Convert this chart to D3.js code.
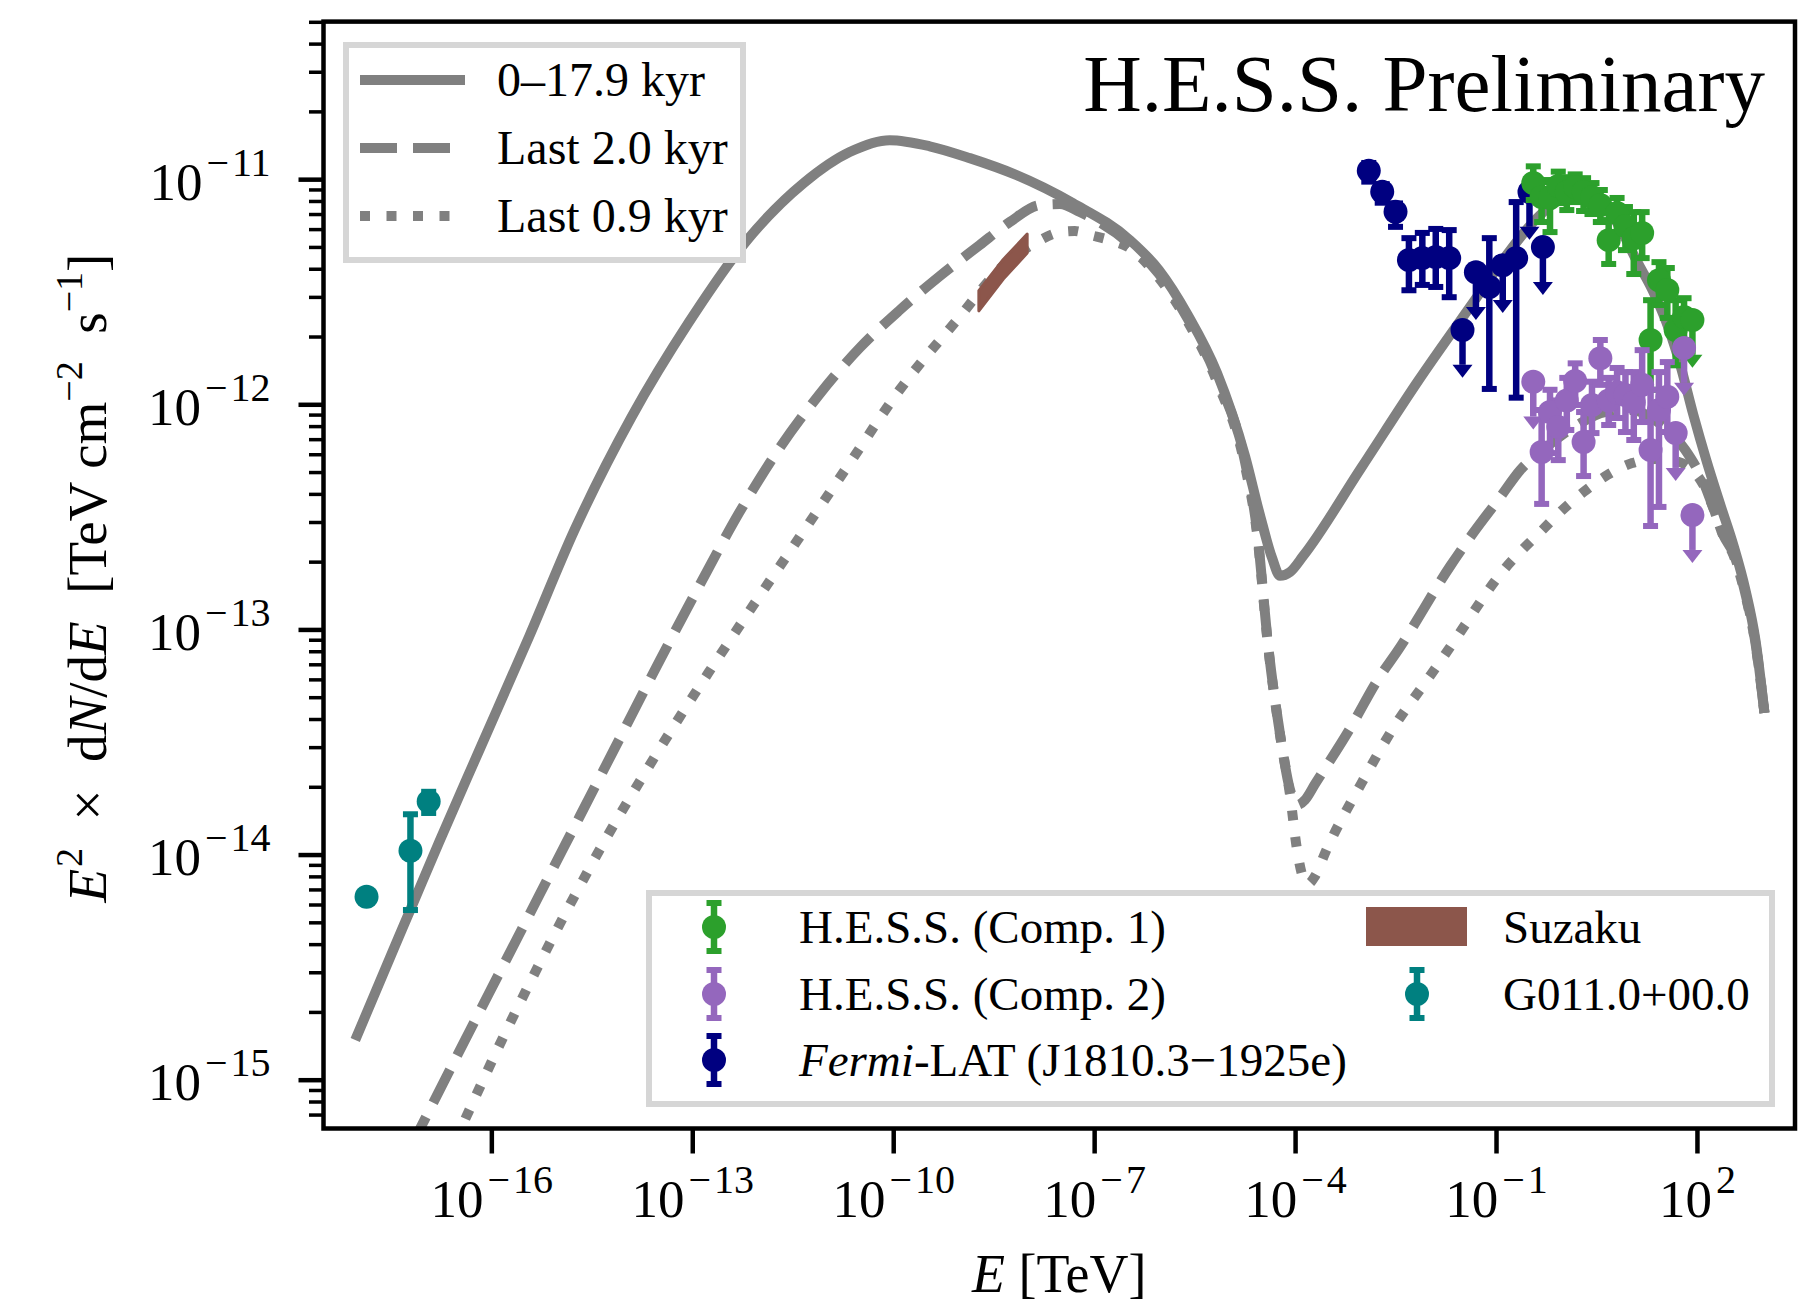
<!DOCTYPE html>
<html><head><meta charset="utf-8">
<script src="https://cdn.jsdelivr.net/npm/d3@7"></script>
<style>
html,body{margin:0;padding:0;background:#fff;}
svg{display:block;font-family:"Liberation Serif","Times New Roman",serif;}
text{white-space:pre;}
</style></head><body>
<svg id="chart" width="1803" height="1306"></svg>
<script>
// ---------------- DATA ----------------
const xDomain = [3.12e-19, 2.91e3];
const yDomain = [6.07e-16, 5.01e-11];
const xTicks = [1e-16, 1e-13, 1e-10, 1e-7, 1e-4, 1e-1, 1e2];
const xTickExp = ["\u221216", "\u221213", "\u221210", "\u22127", "\u22124", "\u22121", "2"];
const yTicks = [1e-15, 1e-14, 1e-13, 1e-12, 1e-11];
const yTickExp = ["\u221215", "\u221214", "\u221213", "\u221212", "\u221211"];

// model curves
const solidE = [9.29e-19, 3.43e-18, 6.16e-18, 1.67e-17, 6.62e-17, 3.70e-16, 1.74e-15, 1.24e-14, 8.79e-14, 6.25e-13, 4.60e-12, 2.24e-11, 8.86e-11, 3.51e-10, 1.39e-9, 6.54e-9, 4.81e-8, 3.42e-7, 9.27e-7, 2.51e-6, 6.82e-6, 1.79e-5, 2.99e-5, 4.53e-5, 5.96e-5, 8.41e-5, 1.32e-4, 9.68e-4, 6.88e-3, 5.06e-2, 0.137, 0.360, 0.767, 1.53, 3.04, 6.04, 12.9, 21.6, 36.2, 56.6, 88.5, 138, 224, 350, 529, 747, 1018];
const solidF = [1.50e-15, 3.77e-15, 5.67e-15, 1.14e-14, 2.91e-14, 9.35e-14, 2.76e-13, 8.78e-13, 2.30e-12, 5.26e-12, 9.61e-12, 1.32e-11, 1.49e-11, 1.40e-11, 1.24e-11, 1.05e-11, 7.83e-12, 5.36e-12, 3.95e-12, 2.49e-12, 1.38e-12, 5.89e-13, 3.22e-13, 2.08e-13, 1.73e-13, 1.80e-13, 2.12e-13, 5.21e-13, 1.27e-12, 2.96e-12, 4.51e-12, 6.45e-12, 7.91e-12, 8.68e-12, 8.25e-12, 6.58e-12, 4.28e-12, 3.22e-12, 2.25e-12, 1.49e-12, 8.96e-13, 5.65e-13, 3.57e-13, 2.37e-13, 1.50e-13, 8.97e-14, 4.26e-14];

const dashE = [5.95e-18, 3.21e-17, 1.32e-16, 5.21e-16, 2.07e-15, 8.18e-15, 3.24e-14, 1.28e-13, 5.08e-13, 2.01e-12, 7.97e-12, 3.16e-11, 1.25e-10, 4.95e-10, 1.96e-9, 5.50e-9, 1.55e-8, 3.08e-8, 6.12e-8, 3.42e-7, 9.27e-7, 2.51e-6, 6.82e-6, 1.79e-5, 2.70e-5, 3.95e-5, 5.96e-5, 8.41e-5, 1.07e-4, 1.41e-4, 1.99e-4, 6.40e-4, 1.74e-3, 3.46e-3, 2.07e-2, 4.56e-2, 0.1156, 0.230, 0.543, 1.635, 4.28, 10.1, 28.4, 67.2, 124.8, 176, 248, 350, 529, 747, 1018];
const dashF = [4.87e-16, 1.31e-15, 2.98e-15, 6.61e-15, 1.47e-14, 3.26e-14, 7.24e-14, 1.57e-13, 3.32e-13, 6.39e-13, 1.11e-12, 1.78e-12, 2.62e-12, 3.71e-12, 5.10e-12, 6.45e-12, 7.67e-12, 7.75e-12, 7.14e-12, 5.15e-12, 3.79e-12, 2.39e-12, 1.31e-12, 5.54e-13, 2.76e-13, 8.53e-14, 3.43e-14, 1.94e-14, 1.66e-14, 1.75e-14, 2.06e-14, 3.57e-14, 6.02e-14, 8.10e-14, 1.91e-13, 2.68e-13, 3.87e-13, 5.10e-13, 6.39e-13, 8.09e-13, 9.24e-13, 9.43e-13, 8.17e-13, 6.26e-13, 4.52e-13, 3.46e-13, 2.62e-13, 2.18e-13, 1.44e-13, 8.70e-14, 4.26e-14];

const dotE = [2.80e-17, 4.69e-17, 1.56e-16, 5.21e-16, 1.68e-15, 5.41e-15, 1.80e-14, 5.81e-14, 1.94e-13, 7.17e-13, 4.00e-12, 2.24e-11, 1.25e-10, 9.20e-10, 4.48e-9, 1.17e-8, 3.18e-8, 5.15e-8, 8.63e-8, 1.72e-7, 3.42e-7, 9.27e-7, 2.51e-6, 6.82e-6, 1.79e-5, 2.70e-5, 3.95e-5, 5.96e-5, 8.41e-5, 1.07e-4, 1.32e-4, 1.56e-4, 1.99e-4, 2.90e-4, 9.68e-4, 3.12e-3, 8.45e-3, 1.52e-2, 3.47e-2, 7.39e-2, 0.137, 0.255, 0.490, 0.976, 2.01, 4.59, 10.8, 23.9, 47.6, 71.9, 124.8, 176, 248, 350, 529, 747, 1018];
const dotF = [5.24e-16, 7.33e-16, 1.58e-15, 3.27e-15, 6.41e-15, 1.21e-14, 2.21e-14, 3.88e-14, 6.74e-14, 1.21e-13, 2.57e-13, 5.48e-13, 1.16e-12, 2.39e-12, 4.15e-12, 5.10e-12, 5.82e-12, 5.88e-12, 5.65e-12, 5.36e-12, 4.94e-12, 3.64e-12, 2.32e-12, 1.26e-12, 5.32e-13, 2.68e-13, 8.44e-14, 3.40e-14, 1.84e-14, 1.05e-14, 7.87e-15, 7.40e-15, 8.03e-15, 1.04e-14, 2.06e-14, 3.76e-14, 5.72e-14, 7.31e-14, 1.05e-13, 1.47e-13, 1.87e-13, 2.28e-13, 2.76e-13, 3.39e-13, 4.07e-13, 4.85e-13, 5.48e-13, 5.71e-13, 5.60e-13, 5.32e-13, 4.38e-13, 3.46e-13, 2.60e-13, 2.14e-13, 1.42e-13, 8.61e-14, 4.26e-14];

// Fermi-LAT
const fermiE = [0.00126, 0.00200, 0.00316, 0.00501, 0.00794, 0.0126, 0.0200, 0.0316, 0.0501, 0.0794, 0.126, 0.200, 0.316, 0.501];
const fermiF = [1.09e-11, 8.79e-12, 7.16e-12, 4.37e-12, 4.46e-12, 4.51e-12, 4.46e-12, 2.14e-12, 3.86e-12, 3.32e-12, 4.15e-12, 4.46e-12, 8.77e-12, 4.99e-12];
const fermiHi = [1.18e-11, 9.5e-12, 7.8e-12, 5.47e-12, 5.77e-12, 6.01e-12, 5.94e-12, null, null, 5.47e-12, null, 7.91e-12, null, null];
const fermiLo = [9.75e-12, 7.86e-12, 6.14e-12, 3.21e-12, 3.39e-12, 3.32e-12, 2.99e-12, null, null, 1.17e-12, null, 1.07e-12, null, null];
const fermiUL = [false, false, false, false, false, false, false, true, true, false, true, false, true, true];

// H.E.S.S.
const hessE = [0.36, 0.48, 0.64, 0.85, 1.14, 1.52, 2.03, 2.71, 3.61, 4.81, 6.42, 8.56, 11.4, 15.2, 20.3, 27.1, 36.1, 48.1, 64.2, 85.6];
const hess1F = [9.61e-12, 8.33e-12, 8.25e-12, 9.32e-12, 8.76e-12, 9.22e-12, 8.76e-12, 8.33e-12, 7.67e-12, 5.36e-12, 7.07e-12, 6.19e-12, 5.47e-12, 5.76e-12, 1.93e-12, 3.56e-12, 3.22e-12, 2.14e-12, 2.44e-12, 2.37e-12];
const hess1Hi = [1.14e-11, 9.71e-12, 9.91e-12, 1.08e-11, 1.02e-11, 1.05e-11, 1.01e-11, 9.61e-12, 8.95e-12, 6.58e-12, 8.25e-12, 7.52e-12, 7.14e-12, 7.14e-12, 2.90e-12, 4.28e-12, 4.03e-12, 2.90e-12, 2.96e-12, null];
const hess1Lo = [8.08e-12, 6.45e-12, 5.82e-12, 7.83e-12, 7.29e-12, 7.91e-12, 7.22e-12, 7.00e-12, 6.45e-12, 4.20e-12, 5.82e-12, 4.84e-12, 3.79e-12, 4.46e-12, 1.16e-12, 2.76e-12, 2.42e-12, 1.49e-12, 1.93e-12, null];
const hess1UL = [false, false, false, false, false, false, false, false, false, false, false, false, false, false, false, false, false, false, false, true];
const hess2F = [1.26e-12, 6.14e-13, 9.24e-13, 7.92e-13, 1.04e-12, 1.27e-12, 6.80e-13, 9.93e-13, 1.60e-12, 1.04e-12, 1.13e-12, 1.10e-12, 1.02e-12, 1.22e-12, 6.26e-13, 9.43e-13, 1.08e-12, 7.45e-13, 1.78e-12, 3.22e-13];
const hess2Hi = [null, 9.43e-13, 1.16e-12, 1.04e-12, 1.31e-12, 1.52e-12, 9.24e-13, 1.26e-12, 1.93e-12, 1.31e-12, 1.45e-12, 1.39e-12, 1.39e-12, 1.74e-12, 1.16e-12, 1.39e-12, 1.54e-12, null, null, null];
const hess2Lo = [null, 3.61e-13, 6.07e-13, 5.65e-13, 7.69e-13, 9.93e-13, 4.80e-13, 7.45e-13, 1.22e-12, 8.09e-13, 8.69e-13, 7.53e-13, 6.94e-13, 8.34e-13, 2.88e-13, 3.50e-13, 7.53e-13, null, null, null];
const hess2UL = [true, false, false, false, false, false, false, false, false, false, false, false, false, false, false, false, false, true, true, true];

// G011.0+00.0
const g011E = [1.37e-18, 6.2e-18, 1.16e-17];
const g011F = [6.5e-15, 1.04e-14, 1.72e-14];
const g011Hi = [null, 1.51e-14, 1.90e-14];
const g011Lo = [null, 5.67e-15, 1.53e-14];

// Suzaku band
const suzakuE = [1.9e-9, 4.4e-9, 1.0e-8];
const suzakuLo = [2.6e-12, 3.6e-12, 4.7e-12];
const suzakuHi = [3.2e-12, 4.4e-12, 5.7e-12];

const curveLabels = ["0\u201317.9 kyr", "Last 2.0 kyr", "Last 0.9 kyr"];

// ---------------- STYLE / LAYOUT ----------------
const W = 1803, H = 1306;
const M = {left: 323.5, right: 1795, top: 21.6, bottom: 1128.5};
const GRAY = "#808080";
const C = {hess1: "#2ca02c", hess2: "#9467bd", fermi: "#000080", g011: "#008080", suzaku: "#8c564b"};
const LW = 10, EBW = 6.5, CAPW = 15, CAPH = 6, MR = 12, ULFRAC = 0.7;

const svg = d3.select("#chart");
svg.append("rect").attr("width", W).attr("height", H).attr("fill", "#fff");

const x = d3.scaleLog().domain(xDomain).range([M.left, M.right]);
const y = d3.scaleLog().domain(yDomain).range([M.bottom, M.top]);

svg.append("defs").append("clipPath").attr("id", "clip").append("rect")
  .attr("x", M.left).attr("y", M.top).attr("width", M.right - M.left).attr("height", M.bottom - M.top);
const plot = svg.append("g").attr("clip-path", "url(#clip)");

// model curves
const line = d3.line().x(d => x(d[0])).y(d => y(d[1])).curve(d3.curveMonotoneX);
const curves = [
  {E: solidE, F: solidF, dash: null},
  {E: dashE, F: dashF, dash: "37,16"},
  {E: dotE, F: dotF, dash: "10,16.5"}
];
curves.forEach(c => {
  plot.append("path").datum(d3.zip(c.E, c.F)).attr("d", line)
    .attr("fill", "none").attr("stroke", GRAY).attr("stroke-width", LW)
    .attr("stroke-dasharray", c.dash).attr("stroke-linejoin", "round");
});

// Suzaku band
const area = d3.area().x(d => x(d[0])).y0(d => y(d[1])).y1(d => y(d[2]));
plot.append("path").datum(d3.zip(suzakuE, suzakuLo, suzakuHi)).attr("d", area)
  .attr("fill", C.suzaku).attr("stroke", C.suzaku).attr("stroke-width", 3).attr("stroke-linejoin", "round");

function errPoint(g, cx, cy, yHi, yLo, isUL, yUL, color) {
  if (isUL) {
    g.append("line").attr("x1", cx).attr("x2", cx).attr("y1", cy).attr("y2", yUL)
      .attr("stroke", color).attr("stroke-width", EBW);
    g.append("path").attr("d", `M${cx - 10},${yUL}L${cx + 10},${yUL}L${cx},${yUL + 13}Z`).attr("fill", color);
  } else if (yHi != null) {
    g.append("line").attr("x1", cx).attr("x2", cx).attr("y1", yHi).attr("y2", yLo)
      .attr("stroke", color).attr("stroke-width", EBW);
    [yHi, yLo].forEach(yy => g.append("rect").attr("x", cx - CAPW / 2).attr("y", yy - CAPH / 2)
      .attr("width", CAPW).attr("height", CAPH).attr("fill", color));
  }
}
function drawSeries(E, F, lo, hi, ul, color) {
  const g = plot.append("g");
  E.forEach((e, i) => {
    const isUL = ul ? ul[i] : false;
    errPoint(g, x(e), y(F[i]), hi && hi[i] != null ? y(hi[i]) : null, lo && lo[i] != null ? y(lo[i]) : null,
      isUL, y(F[i] * ULFRAC), color);
  });
  E.forEach((e, i) => g.append("circle").attr("cx", x(e)).attr("cy", y(F[i])).attr("r", MR).attr("fill", color));
}
drawSeries(fermiE, fermiF, fermiLo, fermiHi, fermiUL, C.fermi);
drawSeries(hessE, hess1F, hess1Lo, hess1Hi, hess1UL, C.hess1);
drawSeries(hessE, hess2F, hess2Lo, hess2Hi, hess2UL, C.hess2);
drawSeries(g011E, g011F, g011Lo, g011Hi, null, C.g011);

// ---------------- AXES ----------------
function supLabel(sel, exp) {
  sel.append("tspan").attr("font-size", 53).text("10");
  const neg = exp.charAt(0) === "\u2212";
  if (neg) {
    sel.append("tspan").attr("font-size", 40).attr("dx", 4).attr("dy", -24).text("\u2212");
    sel.append("tspan").attr("font-size", 40).attr("dx", 3).text(exp.slice(1));
  } else {
    sel.append("tspan").attr("font-size", 40).attr("dx", 4).attr("dy", -24).text(exp);
  }
}
const xAxis = svg.append("g").attr("transform", `translate(0,${M.bottom})`)
  .call(d3.axisBottom(x).tickValues(xTicks).tickSize(25).tickFormat(() => ""));
xAxis.select(".domain").remove();
xAxis.selectAll(".tick line").attr("stroke", "#000").attr("stroke-width", 4.5);
xAxis.selectAll(".tick").each(function (d, i) {
  const t = d3.select(this).append("text").attr("x", 0).attr("y", 88).attr("text-anchor", "middle")
    .attr("fill", "#000").attr("font-family", "Liberation Serif");
  supLabel(t, xTickExp[i]);
});

const yMinor = y.ticks().filter(v => yTicks.every(t => Math.abs(v / t - 1) > 1e-6));
const yAxisMinor = svg.append("g").attr("transform", `translate(${M.left},0)`)
  .call(d3.axisLeft(y).tickValues(yMinor).tickSize(14.5).tickFormat(() => ""));
yAxisMinor.select(".domain").remove();
yAxisMinor.selectAll(".tick line").attr("stroke", "#000").attr("stroke-width", 3.5);

const yAxis = svg.append("g").attr("transform", `translate(${M.left},0)`)
  .call(d3.axisLeft(y).tickValues(yTicks).tickSize(25).tickFormat(() => ""));
yAxis.select(".domain").remove();
yAxis.selectAll(".tick line").attr("stroke", "#000").attr("stroke-width", 4.5);
yAxis.selectAll(".tick").each(function (d, i) {
  const t = d3.select(this).append("text").attr("x", -53).attr("y", 20).attr("text-anchor", "end")
    .attr("fill", "#000").attr("font-family", "Liberation Serif");
  supLabel(t, yTickExp[i]);
});

// frame
svg.append("rect").attr("x", M.left).attr("y", M.top).attr("width", M.right - M.left).attr("height", M.bottom - M.top)
  .attr("fill", "none").attr("stroke", "#000").attr("stroke-width", 4.5);

// axis labels
const xl = svg.append("text").attr("x", (M.left + M.right) / 2).attr("y", 1292).attr("text-anchor", "middle")
  .attr("font-size", 54);
xl.append("tspan").attr("font-style", "italic").text("E");
xl.append("tspan").text(" [TeV]");

const yl = svg.append("text").attr("transform", `translate(106,${(M.top + M.bottom) / 2 + 3}) rotate(-90)`)
  .attr("text-anchor", "middle").attr("font-size", 55);
yl.append("tspan").attr("font-style", "italic").text("E");
yl.append("tspan").attr("font-size", 38).attr("dy", -24).attr("dx", 2).text("2");
yl.append("tspan").attr("dy", 24).text("  \u00d7  d");
yl.append("tspan").attr("font-style", "italic").text("N");
yl.append("tspan").text("/d");
yl.append("tspan").attr("font-style", "italic").text("E");
yl.append("tspan").text("  [TeV cm");
yl.append("tspan").attr("font-size", 38).attr("dy", -24).text("\u22122");
yl.append("tspan").attr("dy", 24).text("  s");
yl.append("tspan").attr("font-size", 38).attr("dy", -24).text("\u22121");
yl.append("tspan").attr("dy", 24).text("]");

// title
svg.append("text").attr("x", 1765).attr("y", 111).attr("text-anchor", "end").attr("font-size", 81)
  .text("H.E.S.S. Preliminary");

// ---------------- LEGENDS ----------------
const LEGSTROKE = "#d6d6d6";
const leg1 = svg.append("g");
leg1.append("rect").attr("x", 346).attr("y", 45).attr("width", 397).attr("height", 215)
  .attr("fill", "#fff").attr("stroke", LEGSTROKE).attr("stroke-width", 6);
const leg1Y = [80, 148, 216];
curves.forEach((c, i) => {
  leg1.append("line").attr("x1", 360).attr("x2", 465).attr("y1", leg1Y[i]).attr("y2", leg1Y[i])
    .attr("stroke", GRAY).attr("stroke-width", LW).attr("stroke-dasharray", c.dash);
  leg1.append("text").attr("x", 497).attr("y", leg1Y[i] + 16).attr("font-size", 48).text(curveLabels[i]);
});

const leg2 = svg.append("g");
leg2.append("rect").attr("x", 649).attr("y", 893).attr("width", 1123).attr("height", 211)
  .attr("fill", "#fff").attr("stroke", LEGSTROKE).attr("stroke-width", 6);
function legErr(cx, cy, color) {
  errPoint(leg2, cx, cy, cy - 24, cy + 24, false, null, color);
  leg2.append("circle").attr("cx", cx).attr("cy", cy).attr("r", MR).attr("fill", color);
}
const rowY = [927, 994, 1060];
legErr(714, rowY[0], C.hess1);
leg2.append("text").attr("x", 799).attr("y", rowY[0] + 16).attr("font-size", 47).text("H.E.S.S. (Comp. 1)");
legErr(714, rowY[1], C.hess2);
leg2.append("text").attr("x", 799).attr("y", rowY[1] + 16).attr("font-size", 47).text("H.E.S.S. (Comp. 2)");
legErr(714, rowY[2], C.fermi);
const ft = leg2.append("text").attr("x", 799).attr("y", rowY[2] + 16).attr("font-size", 47);
ft.append("tspan").attr("font-style", "italic").text("Fermi");
ft.append("tspan").text("-LAT (J1810.3\u22121925e)");
leg2.append("rect").attr("x", 1366).attr("y", 907).attr("width", 101).attr("height", 39).attr("fill", C.suzaku);
leg2.append("text").attr("x", 1503).attr("y", rowY[0] + 16).attr("font-size", 47).text("Suzaku");
legErr(1417, rowY[1], C.g011);
leg2.append("text").attr("x", 1503).attr("y", rowY[1] + 16).attr("font-size", 47).text("G011.0+00.0");
</script></body></html>
